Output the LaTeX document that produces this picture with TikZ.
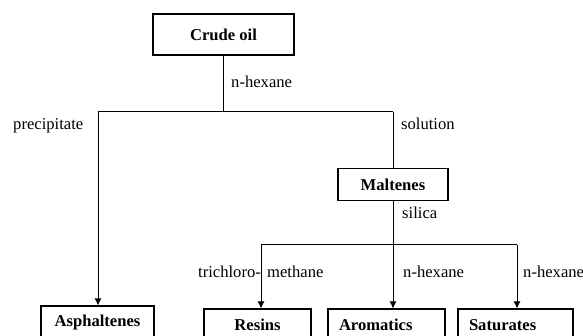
\documentclass[tikz,border=0pt]{standalone}
\usepackage{fontspec}
\setmainfont{Liberation Serif}
\usetikzlibrary{arrows.meta}
\begin{document}
\begin{tikzpicture}[x=1pt,y=-1pt,
  font=\fontsize{16.6}{19}\selectfont,
  box/.style={draw,line width=1.1pt,font=\fontsize{16.6}{19}\selectfont\bfseries,inner sep=0pt},
  lbl/.style={inner sep=0pt,anchor=west},
  conn/.style={line width=1pt},
  arr/.style={line width=1pt,-{Latex[length=7pt,width=7pt]}}]
\useasboundingbox (0,0) rectangle (583,336);
% boxes
\node[box,minimum width=141pt,minimum height=41pt] (crude) at (223.5,34.5) {Crude oil};
\node[box,minimum width=110pt,minimum height=32pt] (malt) at (393,184.5) {Maltenes};
\node[box,minimum width=113pt,minimum height=33pt] (asp) at (97.5,322.5) {Asphaltenes};
\node[box,minimum width=107pt,minimum height=32pt] (res) at (257.5,325) {Resins};
\node[box,minimum height=32pt,text width=95pt,align=left,inner xsep=11pt] (arom) at (386.5,325) {Aromatics};
\node[box,minimum height=32pt,text width=93pt,align=left,inner xsep=11pt] (sat) at (515.5,325) {Saturates};
% junctions
\coordinate (j1) at (223,112);
\coordinate (pl) at (98,112);
\coordinate (pr) at (393,112);
\coordinate (j2) at (393,245);
\coordinate (ql) at (261,245);
\coordinate (qr) at (517,245);
% connectors
\draw[conn] (crude.south -| j1) -- (j1);
\draw[conn] (pl) -- (pr);
\draw[arr] (pl) -- (pl |- asp.north);
\draw[conn] (pr) -- (pr |- malt.north);
\draw[arr] (malt.south -| j2) -- (j2 |- arom.north);
\draw[conn] (ql) -- (qr);
\draw[arr] (ql) -- (ql |- res.north);
\draw[arr] (qr) -- (qr |- sat.north);
% labels
\node[lbl] (l1) at (231,82) {n-hexane};
\node[lbl] (l2) at (13,126) {precipitate};
\node[lbl] (l3) at (401,124) {solution};
\node[lbl] (l4) at (402,213) {silica};
\node[lbl] (l5) at (198,272) {trichloro-};
\node[lbl] (l6) at (267,272) {methane};
\node[lbl] (l7) at (403,272) {n-hexane};
\node[lbl] (l8) at (523,272) {n-hexane};
\end{tikzpicture}
\end{document}
